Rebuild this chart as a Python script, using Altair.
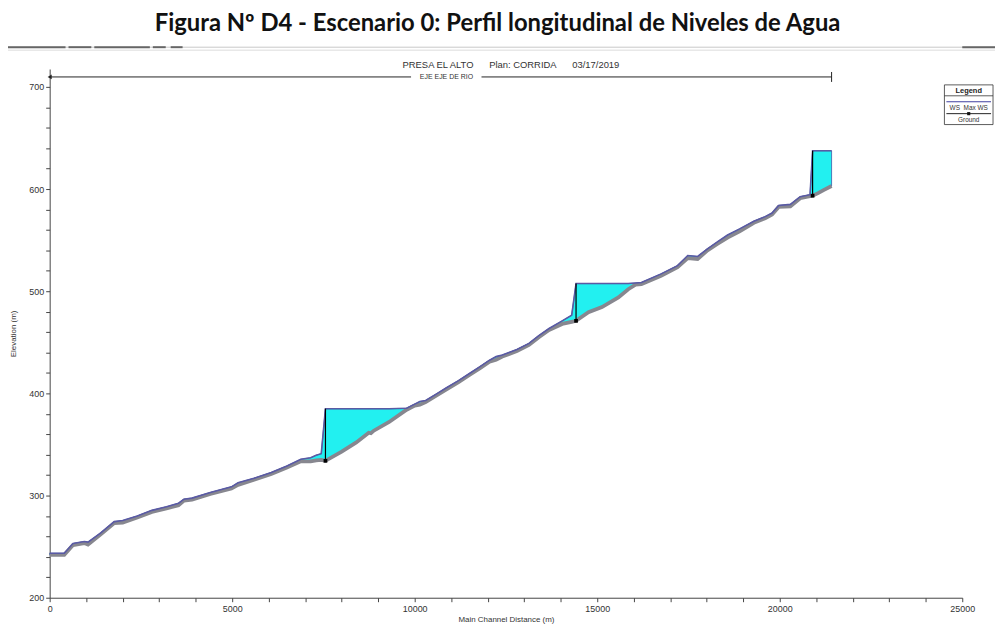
import altair as alt
import pandas as pd

# ---------------- data ----------------
station = [0, 400, 640, 950, 1050, 1400, 1770, 2000, 2400, 2800, 3200, 3530, 3680, 3900,
           4400, 4980, 5160, 5600, 6070, 6500, 6880, 7150, 7300, 7440, 7555,
           8000, 8400, 8740, 8800, 8880, 9300, 9780, 10000, 10140, 10300, 10600, 10870,
           11200, 11500, 11800, 12050, 12230, 12400, 12800, 13130, 13400, 13680, 14040,
           14300, 14420, 14760, 15130, 15580, 15850, 16050, 16210, 16750, 17200, 17480,
           17750, 18020, 18300, 18570, 18900, 19290, 19600, 19790, 19970, 20290, 20560,
           20830, 20900, 21050, 21200, 21420]
ground = [242, 242, 251.5, 253.5, 252, 262, 273, 273.5, 278.5, 284, 287.5, 290.5, 295, 296,
          301.5, 307, 310.5, 315.5, 321, 327.5, 333.5, 333.5, 334.5, 335, 334,
          343, 352, 361.5, 361, 363.5, 372, 384, 388, 389, 391.5, 398, 404,
          411, 418, 425, 431, 433, 436, 441.5, 447.5, 455, 462, 468,
          470, 471, 479.5, 484.5, 494, 502, 506.5, 507, 515, 523.5, 532.5,
          531.5, 540, 546.5, 552.5, 558.5, 567, 571.5, 575, 582.5, 583, 591,
          593, 593.5, 596, 599, 603]
ws = [243.5, 243.5, 253, 255, 254.5, 263.5, 274.5, 275.5, 280, 285.5, 289, 292.5, 296.5, 297.5,
      303, 308.5, 312.5, 317, 322.5, 329, 335.5, 337, 339.5, 341, 385,
      385, 385, 385, 385, 385, 385, 385.5, 389.5, 392, 393, 399.5, 405.5,
      412.5, 419.5, 426.5, 432.5, 436, 437.5, 443, 449, 456.5, 463.5, 471,
      476.5, 507.5, 507.5, 507.5, 507.5, 507.5, 508, 508.5, 517, 525, 535,
      534, 541.5, 548.5, 555, 561, 568.5, 573, 576.5, 584, 585, 592.5,
      594.5, 637.5, 637.5, 637.5, 637.5]

dam_station = [7555, 14420, 20900]
dam_base = [334, 471, 593.5]
dam_crest = [385, 507.5, 637.5]

reach_start = 0
reach_end = 21420
reach_gap = [9900, 11830]
reach_label_station = 10870

x_ticks = list(range(0, 25001, 1000))
y_ticks = list(range(200, 701, 20))

NB = "\u00a0"
title_text = "Figura Nº D4 - Escenario 0: Perfil longitudinal de Niveles de Agua"
subtitle_text = "PRESA EL ALTO" + NB * 6 + "Plan: CORRIDA" + NB * 6 + "03/17/2019"
reach_label = "EJE EJE DE RIO"
legend_title = "Legend"
legend_items = ["WS" + NB * 2 + "Max WS", "Ground"]

# ---------------- tables ----------------
df = pd.DataFrame({"station": station, "ground": ground, "ws": ws})
dams = pd.DataFrame({"station": dam_station, "base": dam_base, "crest": dam_crest})
reach = pd.DataFrame({"x0": [reach_start, reach_gap[1]], "x1": [reach_gap[0], reach_end]})
one = pd.DataFrame({"k": [0]})

W, H = 920, 533
FONT = "Liberation Sans"
xs = alt.Scale(domain=[0, 25000], nice=False, zero=False)
ys = alt.Scale(domain=[200, 717.5], nice=False, zero=False)

x_axis = alt.Axis(values=x_ticks,
                  labelExpr="datum.value % 5000 == 0 ? format(datum.value, 'd') : ''",
                  title="Main Channel Distance (m)", grid=False, labelFlush=False,
                  labelOverlap=False, tickSize=4, labelPadding=3, titlePadding=2,
                  domainColor="#444", tickColor="#444", labelColor="#333",
                  labelFont=FONT, labelFontSize=9, titleFont=FONT, titleFontSize=8,
                  titleFontWeight="normal", titleColor="#333")
y_axis = alt.Axis(values=y_ticks,
                  labelExpr="datum.value % 100 == 0 ? format(datum.value, 'd') : ''",
                  title="Elevation (m)", grid=False, labelFlush=False,
                  labelOverlap=False, tickSize=4, labelPadding=2, titlePadding=11,
                  domainColor="#444", tickColor="#444", labelColor="#333",
                  labelFont=FONT, labelFontSize=9, titleFont=FONT, titleFontSize=8,
                  titleFontWeight="normal", titleColor="#333")


def X(field):
    return alt.X(field, scale=xs, axis=x_axis)


def Y(field):
    return alt.Y(field, scale=ys, axis=y_axis)


base = alt.Chart(df)

water = base.mark_area(color="#22F0F0", opacity=1, stroke="#3d5aa8", strokeWidth=0.8).encode(
    x=X("station:Q"), y=Y("ws:Q"), y2="ground:Q")
ground_line = base.mark_line(color="#87878f", strokeWidth=3.8).encode(
    x=X("station:Q"), y=Y("ground:Q"))
ws_line = base.mark_line(color="#5a5aa4", strokeWidth=1.6).encode(
    x=X("station:Q"), y=Y("ws:Q"))

dam_rules = alt.Chart(dams).mark_rule(color="black", strokeWidth=1.2).encode(
    x=X("station:Q"), y=Y("base:Q"), y2="crest:Q")
dam_marks = alt.Chart(dams).mark_square(color="black", size=14, opacity=1).encode(
    x=X("station:Q"), y=Y("base:Q"))

# reach line at the top of the plot
reach_rules = alt.Chart(reach).mark_rule(color="#222", strokeWidth=1).encode(
    x=X("x0:Q"), x2="x1:Q", y=alt.value(8))
reach_arrow = alt.Chart(one).mark_point(shape="triangle-left", filled=True, size=22,
                                        color="#222", opacity=1).encode(
    x=alt.datum(reach_start, scale=xs, axis=x_axis), y=alt.value(8))
reach_end_tick = alt.Chart(one).mark_rule(color="#222", strokeWidth=1).encode(
    x=alt.datum(reach_end, scale=xs, axis=x_axis), y=alt.value(3), y2=alt.value(13))
reach_text = alt.Chart(one).mark_text(font=FONT, fontSize=7, color="#333").encode(
    x=alt.datum(reach_label_station, scale=xs, axis=x_axis), y=alt.value(8),
    text=alt.value(reach_label))

# header texts
title_mark = alt.Chart(one).mark_text(font="Lato", fontSize=24, fontWeight="bold",
                                      color="#111", baseline="alphabetic").encode(
    x=alt.value(451.5), y=alt.value(-38), text=alt.value(title_text))
subtitle_mark = alt.Chart(one).mark_text(font=FONT, fontSize=9.5, color="#333").encode(
    x=alt.value(465), y=alt.value(-4), text=alt.value(subtitle_text))

# document header line
hdr_layers = [
    alt.Chart(one).mark_rule(color="#c8c8c8", strokeWidth=1).encode(
        x=alt.value(-42), x2=alt.value(953), y=alt.value(-22)),
    alt.Chart(one).mark_rule(color="#dcdcdc", strokeWidth=1).encode(
        x=alt.value(-42), x2=alt.value(953), y=alt.value(-19)),
]
for a, b in [(-42, 16), (19, 42), (45, 101), (104, 117), (122, 134), (920, 953)]:
    hdr_layers.append(alt.Chart(one).mark_rule(color="#666", strokeWidth=2).encode(
        x=alt.value(a), x2=alt.value(b), y=alt.value(-22)))

# legend box
leg_layers = [
    alt.Chart(one).mark_rect(fill="white", stroke="#333", strokeWidth=0.8).encode(
        x=alt.value(902), x2=alt.value(951), y=alt.value(16), y2=alt.value(56)),
    alt.Chart(one).mark_text(font=FONT, fontSize=7.5, fontWeight="bold", color="#222").encode(
        x=alt.value(926.5), y=alt.value(22), text=alt.value(legend_title)),
    alt.Chart(one).mark_rule(color="#333", strokeWidth=0.8).encode(
        x=alt.value(902), x2=alt.value(951), y=alt.value(27)),
    alt.Chart(one).mark_rule(color="#4040a0", strokeWidth=1.2).encode(
        x=alt.value(904), x2=alt.value(949), y=alt.value(33)),
    alt.Chart(one).mark_text(font=FONT, fontSize=6.5, color="#333").encode(
        x=alt.value(926.5), y=alt.value(39), text=alt.value(legend_items[0])),
    alt.Chart(one).mark_rule(color="#222", strokeWidth=1).encode(
        x=alt.value(904), x2=alt.value(949), y=alt.value(45)),
    alt.Chart(one).mark_square(color="#111", size=10, opacity=1).encode(
        x=alt.value(926.5), y=alt.value(45)),
    alt.Chart(one).mark_text(font=FONT, fontSize=6.5, color="#333").encode(
        x=alt.value(926.5), y=alt.value(51), text=alt.value(legend_items[1])),
]

chart = alt.layer(
    water, ground_line, ws_line, dam_rules, dam_marks,
    reach_rules, reach_arrow, reach_end_tick, reach_text,
    title_mark, subtitle_mark, *hdr_layers, *leg_layers,
).properties(
    width=W, height=H,
    autosize=alt.AutoSizeParams(type="none"),
    padding={"left": 42, "top": 59, "right": 33, "bottom": 27},
    background="white",
).configure_view(stroke=None)

chart.save("out.html", embed_options={"renderer": "svg", "actions": False})
